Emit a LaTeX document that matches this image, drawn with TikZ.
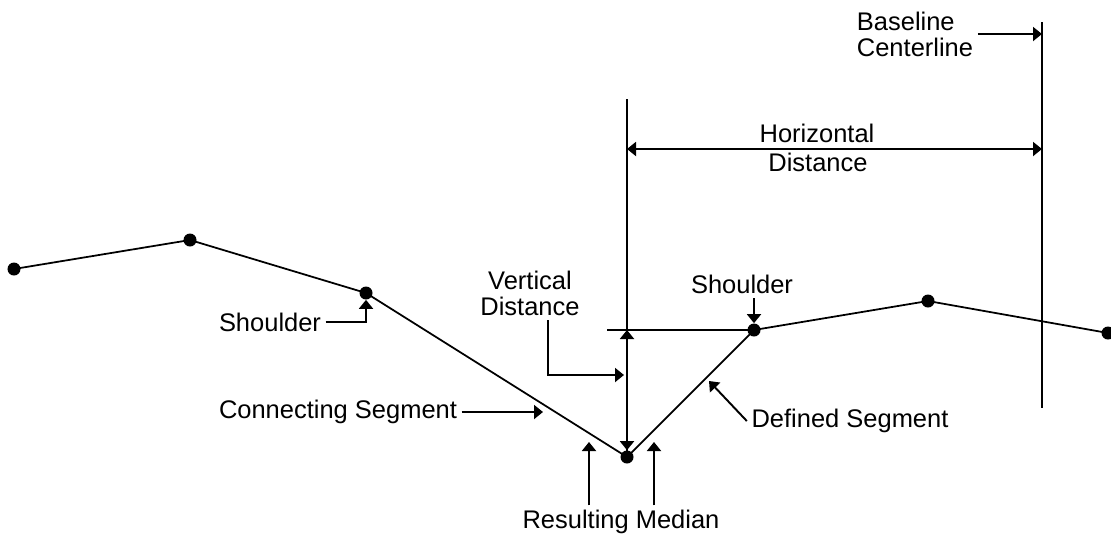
\documentclass[tikz,border=0pt]{standalone}
\usepackage{fontspec}
\setmainfont{Liberation Sans}
\usetikzlibrary{arrows.meta}
\tikzset{>={Triangle[length=1.8mm,width=2.8mm]}}

\begin{document}
\begin{tikzpicture}[
    x = 0.2mm,
    y = -0.2mm,
    font = \fontsize{14.5}{14.8}\selectfont,
    note/.style = {inner sep = 2.5pt},
    dot/.style = {circle, fill, inner sep = 0pt, minimum size = 2.6mm},
    profile/.style = {line width = 1pt},
    guide/.style = {line width = 1.1pt},
    pointer/.style = {->, line width = 1.1pt}
  ]
    \useasboundingbox (0, 0) rectangle (1111, 546);
    \node[dot] (outer_left) at (14, 269) {};
    \node[dot] (crest_left) at (190, 240) {};
    \node[dot] (shoulder_left) at (366, 293) {};
    \node[dot] (median) at (627, 457) {};
    \node[dot] (shoulder_right) at (754, 330) {};
    \node[dot] (crest_right) at (928, 301) {};
    \node[dot] (outer_right) at (1108, 333) {};
    \coordinate (median_top) at (627, 99);
    \coordinate (level_left) at (607, 330);
    \coordinate (level_mid) at (627, 330);
    \coordinate (baseline_top) at (1042, 22);
    \coordinate (baseline_bottom) at (1042, 408);
    \coordinate (hd_left) at (627, 149);
    \coordinate (hd_right) at (1042, 149);
    \coordinate (vd_corner) at (548, 375);
    \coordinate (vd_target) at (624, 375);
    \coordinate (cs_target) at (543, 412);
    \coordinate (ds_target) at (709, 381);
    \coordinate (rm_left) at (589, 442);
    \coordinate (rm_right) at (654, 442);
    \node[note, align = left] (baseline_label) at (915, 34) {Baseline\\Centerline};
    \node[note] (horizontal_label) at (817, 133) {Horizontal};
    \node[note] (distance_label) at (818, 162) {Distance};
    \node[note, align = center] (vertical_label) at (530, 293) {Vertical\\Distance};
    \node[note] (shoulder_right_label) at (742, 284) {Shoulder};
    \node[note] (shoulder_left_label) at (270, 322) {Shoulder};
    \node[note] (connecting_label) at (338, 412) {Connecting Segment};
    \node[note] (defined_label) at (850, 421) {Defined Segment};
    \node[note] (median_label) at (621, 522) {Resulting Median};
    % road profile
    \draw[profile] (outer_left.center) -- (crest_left.center) -- (shoulder_left.center)
      -- (median.center) -- (shoulder_right.center) -- (crest_right.center) -- (outer_right.center);
    % reference lines
    \draw[guide] (median_top) -- (median.center);
    \draw[guide] (baseline_top) -- (baseline_bottom);
    \draw[guide] (level_left) -- (shoulder_right.center);
    \draw[guide, <->] (hd_left) -- (hd_right);
    \draw[guide, <->] (level_mid) -- (median.north);
    % pointers
    \draw[pointer] (baseline_label.east) -- (baseline_label.east -| baseline_top);
    \draw[pointer] (shoulder_left_label.east) -| (shoulder_left.south);
    \draw[pointer] (shoulder_right_label.south -| shoulder_right) -- (shoulder_right.north);
    \draw[pointer] (vertical_label.south -| vd_corner) -- (vd_corner) -- (vd_target);
    \draw[pointer] (connecting_label.east) -- (cs_target);
    \draw[pointer] (defined_label.west) -- (ds_target);
    \draw[pointer] (median_label.north -| rm_left) -- (rm_left);
    \draw[pointer] (median_label.north -| rm_right) -- (rm_right);
  \end{tikzpicture}
\end{document}
